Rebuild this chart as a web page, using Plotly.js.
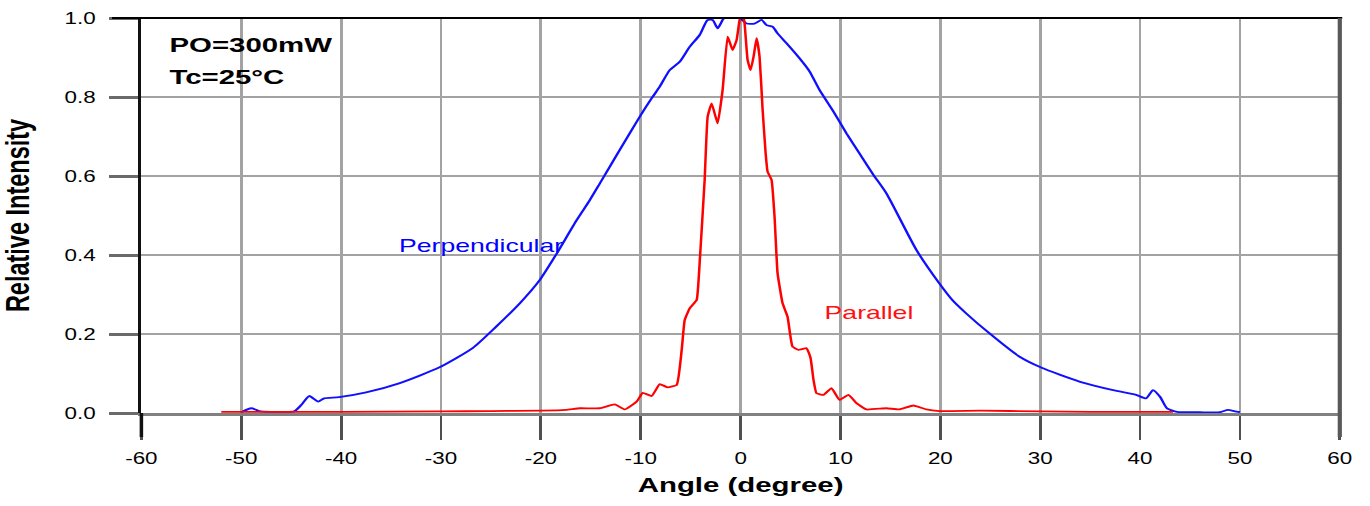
<!DOCTYPE html>
<html>
<head>
<meta charset="utf-8">
<script src="https://cdn.plot.ly/plotly-3.0.1.min.js"></script>
<style>
  html, body { margin: 0; padding: 0; background: #ffffff; overflow: hidden; }
  #wrap { width: 1370px; height: 506px; overflow: hidden; }
  #chart { width: 978px; height: 506px; transform: scaleX(1.4); transform-origin: 0 0; }
</style>
</head>
<body>
<div id="wrap"><div id="chart"></div></div>
<script>
// Perpendicular (blue) far-field profile
const perpAngle = [-50.0, -49.0, -48.2, -47.0, -45.5, -44.7, -44.0, -43.2, -42.3, -41.7, -40.2, -37.5, -34.2, -30.2, -26.8, -24.5, -22.1, -20.1, -18.5, -16.4, -15.1, -14.1, -12.1, -10.1, -8.9, -8.1, -7.1, -6.1, -5.1, -4.1, -3.3, -2.8, -2.3, -1.8, -1.3, -0.8, -0.1, 0.6, 1.4, 2.1, 2.6, 3.2, 3.7, 4.6, 5.9, 6.9, 7.9, 9.3, 10.6, 11.9, 13.3, 14.6, 17.6, 19.9, 21.2, 22.6, 24.9, 27.9, 30.1, 34.0, 37.3, 39.6, 40.6, 41.3, 42.0, 42.7, 43.7, 46.0, 48.0, 48.8, 49.5, 50.0];
const perpValue = [0.002, 0.012, 0.005, 0.003, 0.003, 0.004, 0.020, 0.043, 0.029, 0.037, 0.040, 0.052, 0.075, 0.115, 0.165, 0.218, 0.278, 0.337, 0.400, 0.489, 0.539, 0.581, 0.666, 0.750, 0.797, 0.826, 0.868, 0.889, 0.927, 0.957, 0.995, 0.995, 0.974, 0.995, 1.012, 1.000, 1.000, 0.986, 0.986, 0.995, 0.982, 0.978, 0.961, 0.936, 0.898, 0.865, 0.818, 0.763, 0.708, 0.657, 0.603, 0.556, 0.413, 0.328, 0.286, 0.252, 0.202, 0.143, 0.115, 0.079, 0.058, 0.046, 0.037, 0.058, 0.041, 0.012, 0.003, 0.002, 0.002, 0.008, 0.004, 0.002];

// Parallel (red) far-field profile
const paraAngle = [-52.0, -45.0, -40.0, -30.0, -25.0, -20.0, -17.5, -16.1, -14.1, -12.6, -11.6, -10.4, -9.8, -8.9, -8.1, -7.3, -6.4, -5.9, -5.6, -5.1, -4.4, -4.1, -3.6, -3.3, -2.9, -2.3, -1.8, -1.3, -0.8, -0.4, -0.1, 0.2, 0.4, 0.7, 1.0, 1.3, 1.6, 1.9, 2.2, 2.5, 2.7, 3.1, 3.4, 3.7, 4.2, 4.7, 5.2, 5.8, 6.6, 7.0, 7.3, 7.6, 8.3, 9.1, 9.9, 10.8, 11.6, 12.6, 14.6, 15.9, 17.3, 18.6, 19.9, 24.0, 30.0, 35.0, 43.3];
const paraValue = [0.003, 0.003, 0.003, 0.004, 0.005, 0.006, 0.008, 0.012, 0.012, 0.022, 0.009, 0.029, 0.051, 0.043, 0.073, 0.065, 0.071, 0.159, 0.235, 0.265, 0.286, 0.380, 0.590, 0.750, 0.784, 0.733, 0.818, 0.953, 0.919, 0.944, 0.995, 1.016, 0.986, 0.894, 0.868, 0.902, 0.949, 0.902, 0.770, 0.660, 0.611, 0.590, 0.497, 0.354, 0.278, 0.244, 0.168, 0.160, 0.164, 0.140, 0.084, 0.050, 0.046, 0.063, 0.033, 0.046, 0.025, 0.009, 0.012, 0.009, 0.019, 0.009, 0.005, 0.006, 0.004, 0.003, 0.003];

const xTickVals = [-60, -50, -40, -30, -20, -10, 0, 10, 20, 30, 40, 50, 60];
const yTickVals = [0.0, 0.2, 0.4, 0.6, 0.8, 1.0];

const labelPerp = 'Perpendicular';
const labelPara = 'Parallel';
const noteLines = ['PO=300mW', 'Tc=25°C'];

const FONT = 'Liberation Sans, Arial, sans-serif';

const traces = [
  { x: perpAngle, y: perpValue, type: 'scatter', mode: 'lines', name: labelPerp,
    line: { color: '#1010ff', width: 1.8, shape: 'spline', smoothing: 0.6 } },
  { x: paraAngle, y: paraValue, type: 'scatter', mode: 'lines', name: labelPara,
    line: { color: '#ff0000', width: 1.8, shape: 'spline', smoothing: 0.35 } }
];

const layout = {
  width: 978, height: 506,
  margin: { l: 101, r: 21, t: 18, b: 93 },
  paper_bgcolor: '#ffffff', plot_bgcolor: '#ffffff',
  showlegend: false,
  font: { family: FONT, color: '#000000', size: 16 },
  xaxis: {
    range: [-60, 60], tickvals: xTickVals, ticktext: xTickVals.map(String),
    showgrid: true, gridcolor: '#a3a3a3', gridwidth: 2,
    zeroline: false, showline: true, linecolor: '#808080', linewidth: 3,
    ticks: 'outside', ticklen: 24, tickwidth: 2, tickcolor: '#505050',
    tickfont: { family: FONT, size: 16, color: '#000000' },
    ticklabelstandoff: 5,
    layer: 'below traces',
    title: { text: 'Angle (degree)', font: { family: FONT, size: 21, color: '#000000', weight: 'bold' }, standoff: 12 },
    automargin: false, fixedrange: true
  },
  yaxis: {
    range: [0, 1], tickvals: yTickVals, tickformat: '.1f',
    showgrid: true, gridcolor: '#a3a3a3', gridwidth: 2.5,
    zeroline: false, showline: true, linecolor: '#111111', linewidth: 2.5,
    ticks: 'outside', ticklen: 21, tickwidth: 3, tickcolor: '#6a6a6a',
    tickfont: { family: FONT, size: 16, color: '#000000' },
    ticklabelstandoff: 6,
    layer: 'below traces',
    title: { text: 'Relative Intensity', font: { family: FONT, size: 23.5, color: '#000000', weight: 'bold' }, standoff: 19 },
    automargin: false, fixedrange: true
  },
  shapes: [
    { type: 'line', xref: 'paper', yref: 'paper', x0: -21 / 856, x1: 1.002, y0: 1, y1: 1,
      line: { color: '#000000', width: 2 }, layer: 'above' },
    { type: 'line', xref: 'paper', yref: 'paper', x0: 1, x1: 1, y0: -24 / 395, y1: 1,
      line: { color: '#595959', width: 3 }, layer: 'above' },
    { type: 'line', xref: 'paper', yref: 'paper', x0: 0, x1: 0, y0: -24 / 395, y1: 0,
      line: { color: '#111111', width: 2.5 }, layer: 'above' }
  ],
  annotations: [
    { x: -57.5, y: 0.934, xref: 'x', yref: 'y', text: noteLines[0], showarrow: false,
      xanchor: 'left', yanchor: 'middle', font: { family: FONT, size: 21, color: '#000000', weight: 'bold' } },
    { x: -57.5, y: 0.853, xref: 'x', yref: 'y', text: noteLines[1], showarrow: false,
      xanchor: 'left', yanchor: 'middle', font: { family: FONT, size: 21, color: '#000000', weight: 'bold' } },
    { x: -25.9, y: 0.423, xref: 'x', yref: 'y', text: labelPerp, showarrow: false,
      xanchor: 'center', yanchor: 'middle', font: { family: FONT, size: 19, color: '#0000ff' } },
    { x: 12.8, y: 0.254, xref: 'x', yref: 'y', text: labelPara, showarrow: false,
      xanchor: 'center', yanchor: 'middle', font: { family: FONT, size: 19, color: '#ff1010' } }
  ]
};

Plotly.newPlot('chart', traces, layout, { staticPlot: true, displayModeBar: false });
</script>
</body>
</html>
